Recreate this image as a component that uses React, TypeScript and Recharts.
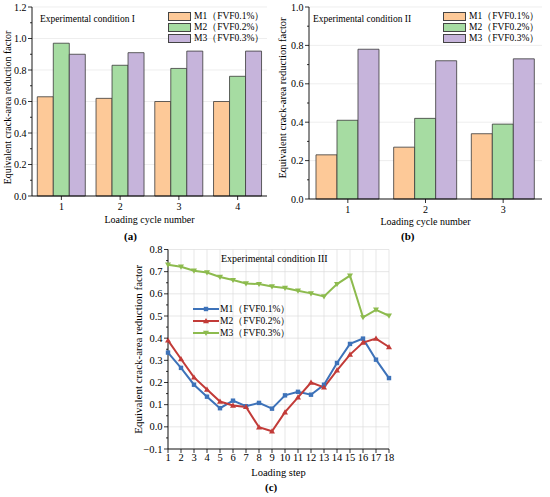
import React from 'react';
import { BarChart, Bar, XAxis, YAxis, CartesianGrid, Legend, LineChart, Line, Label } from 'recharts';

const FONT = '"Liberation Serif", "Times New Roman", serif';

// ---------- data ----------
const seriesNames = ['M1（FVF0.1%）', 'M2（FVF0.2%）', 'M3（FVF0.3%）'];
const barColors = ['#FDC998', '#A6DCA2', '#C6B4DB'];
const lineColors = ['#3D72B9', '#C23B38', '#8DBB4E'];

const cyclesA = ['1', '2', '3', '4'];
const aM1 = [0.63, 0.62, 0.6, 0.6];
const aM2 = [0.97, 0.83, 0.81, 0.76];
const aM3 = [0.9, 0.91, 0.92, 0.92];

const cyclesB = ['1', '2', '3'];
const bM1 = [0.23, 0.27, 0.34];
const bM2 = [0.41, 0.42, 0.39];
const bM3 = [0.78, 0.72, 0.73];

const steps = [1, 2, 3, 4, 5, 6, 7, 8, 9, 10, 11, 12, 13, 14, 15, 16, 17, 18];
const cM1 = [0.335, 0.266, 0.19, 0.136, 0.084, 0.118, 0.093, 0.108, 0.082, 0.142, 0.158, 0.145, 0.19, 0.288, 0.374, 0.398, 0.303, 0.22];
const cM2 = [0.39, 0.306, 0.223, 0.168, 0.114, 0.096, 0.09, -0.002, -0.02, 0.066, 0.133, 0.2, 0.178, 0.255, 0.326, 0.38, 0.398, 0.36];
const cM3 = [0.731, 0.722, 0.704, 0.696, 0.676, 0.662, 0.647, 0.644, 0.633, 0.626, 0.614, 0.602, 0.588, 0.644, 0.682, 0.494, 0.528, 0.501];

const yTicksA = [0, 0.1, 0.2, 0.3, 0.4, 0.5, 0.6, 0.7, 0.8, 0.9, 1.0, 1.1, 1.2];
const yMajorA = [0, 0.2, 0.4, 0.6, 0.8, 1.0, 1.2];
const yTicksB = [0, 0.1, 0.2, 0.3, 0.4, 0.5, 0.6, 0.7, 0.8, 0.9, 1.0];
const yMajorB = [0, 0.2, 0.4, 0.6, 0.8, 1.0];
const yTicksC = [-0.1, -0.05, 0, 0.05, 0.1, 0.15, 0.2, 0.25, 0.3, 0.35, 0.4, 0.45, 0.5, 0.55, 0.6, 0.65, 0.7, 0.75, 0.8];
const yMajorC = [-0.1, 0, 0.1, 0.2, 0.3, 0.4, 0.5, 0.6, 0.7, 0.8];

const dataA = cyclesA.map((c, i) => ({ cat: c, m1: aM1[i], m2: aM2[i], m3: aM3[i] }));
const dataB = cyclesB.map((c, i) => ({ cat: c, m1: bM1[i], m2: bM2[i], m3: bM3[i] }));
const dataC = steps.map((s, i) => ({ step: s, m1: cM1[i], m2: cM2[i], m3: cM3[i] }));

// ---------- helpers ----------
const fmt = (v: number) => {
  const s = v.toFixed(1);
  return s.startsWith('-') ? '\u2212' + s.slice(1) : s;
};
const isIn = (arr: number[], v: number) => arr.some((m) => Math.abs(m - v) < 1e-6);

const makeYTick = (majors: number[], fs: number) => (props: any) => {
  const { x, y, payload } = props;
  const v = payload.value;
  const major = isIn(majors, v);
  return (
    <g>
      <line x1={x} x2={x - (major ? 4 : 2)} y1={y} y2={y} stroke="#000" strokeWidth={0.8} />
      {major && (
        <text x={x - 5.5} y={y} textAnchor="end" dominantBaseline="central" fontSize={fs} fontFamily={FONT} fill="#000">
          {fmt(v)}
        </text>
      )}
    </g>
  );
};

const makeXTick = (fs: number, gap: number) => (props: any) => {
  const { x, y, payload } = props;
  return (
    <g>
      <line x1={x} x2={x} y1={y} y2={y + 4} stroke="#000" strokeWidth={0.8} />
      <text x={x} y={y + gap} textAnchor="middle" dy="0.71em" fontSize={fs} fontFamily={FONT} fill="#000">
        {payload.value}
      </text>
    </g>
  );
};

const yLabel = (text: string, fs: number, dx: number, dy: number) => (props: any) => {
  const vb = props.viewBox || {};
  const cx = vb.x + dx;
  const cy = vb.y + vb.height / 2 + dy;
  return (
    <text x={cx} y={cy} transform={`rotate(-90 ${cx} ${cy})`} textAnchor="middle" dominantBaseline="central" fontSize={fs} fontFamily={FONT} fill="#000">
      {text}
    </text>
  );
};

const BarLegend = (props: any) => {
  const payload = props.payload || [];
  return (
    <div style={{ fontFamily: FONT, fontSize: 9.5, color: '#000', lineHeight: '11px' }}>
      {payload.map((p: any, i: number) => (
        <div key={i} style={{ display: 'flex', alignItems: 'center', height: 11, whiteSpace: 'nowrap' }}>
          <span style={{ display: 'inline-block', width: 23, height: 9, background: p.color, border: '0.8px solid #444', boxSizing: 'border-box', marginRight: 3 }} />
          <span>{p.value}</span>
        </div>
      ))}
    </div>
  );
};

const Marker = ({ shape, cx, cy, color }: { shape: string; cx: number; cy: number; color: string }) => {
  if (shape === 'square') return <rect x={cx - 2.2} y={cy - 2.2} width={4.4} height={4.4} fill={color} />;
  if (shape === 'up') return <path d={`M${cx},${cy - 3} L${cx + 3},${cy + 2.2} L${cx - 3},${cy + 2.2} Z`} fill={color} />;
  return <path d={`M${cx},${cy + 3} L${cx + 3},${cy - 2.2} L${cx - 3},${cy - 2.2} Z`} fill={color} />;
};

const shapes = ['square', 'up', 'down'];

const makeDot = (shape: string, color: string) => (props: any) => {
  const { cx, cy, index } = props;
  if (cx == null || cy == null) return <g key={index} />;
  return (
    <g key={index}>
      <Marker shape={shape} cx={cx} cy={cy} color={color} />
    </g>
  );
};

const LineLegend = (props: any) => {
  const payload = props.payload || [];
  return (
    <div style={{ fontFamily: FONT, fontSize: 9.5, color: '#000' }}>
      {payload.map((p: any, i: number) => (
        <div key={i} style={{ display: 'flex', alignItems: 'center', height: 12, whiteSpace: 'nowrap' }}>
          <svg width={26} height={8} style={{ marginRight: 1 }}>
            <line x1={0} x2={26} y1={4} y2={4} stroke={p.color} strokeWidth={2} />
            <Marker shape={shapes[i]} cx={13} cy={4} color={p.color} />
          </svg>
          <span>{p.value}</span>
        </div>
      ))}
    </div>
  );
};

const axisStroke = { stroke: '#000', strokeWidth: 0.9 };

const absText = (left: number, top: number, fs: number, text: string, extra: React.CSSProperties = {}) => (
  <div style={{ position: 'absolute', left, top, fontFamily: FONT, fontSize: fs, lineHeight: `${fs + 2}px`, whiteSpace: 'nowrap', color: '#000', ...extra }}>
    {text}
  </div>
);

export default function App() {
  return (
    <div style={{ position: 'absolute', left: 0, top: 0, width: 550, height: 497, background: '#fff', overflow: 'hidden' }}>
      {/* Panel (a) */}
      <div style={{ position: 'absolute', left: 0, top: 0 }}>
        <BarChart width={275} height={245} data={dataA} margin={{ top: 7, right: 8, bottom: 0, left: 0 }} barGap={0} barCategoryGap="9%">
          <CartesianGrid vertical={false} horizontalValues={yMajorA} stroke="#e6e6e6" strokeWidth={0.7} />
          <XAxis dataKey="cat" height={49} tickSize={0} tickMargin={0} tickLine={false} tick={makeXTick(10, 6.5)} axisLine={axisStroke} interval={0}>
            <Label value="Loading cycle number" position="insideBottom" offset={22} fontSize={10} fontFamily={FONT} fill="#000" />
          </XAxis>
          <XAxis xAxisId="top" dataKey="cat" orientation="top" height={0} tick={false} tickLine={false} axisLine={axisStroke} />
          <YAxis width={32} domain={[0, 1.2]} ticks={yTicksA} interval={0} tickSize={0} tickMargin={0} tickLine={false} tick={makeYTick(yMajorA, 10)} axisLine={axisStroke}>
            <Label content={yLabel('Equivalent crack-area reduction factor', 10, 7, 6)} />
          </YAxis>
          <YAxis yAxisId="right" orientation="right" width={0} domain={[0, 1.2]} tick={false} tickLine={false} axisLine={axisStroke} />
          <Legend layout="vertical" align="center" verticalAlign="middle" content={BarLegend} wrapperStyle={{ left: 168, top: 11, width: 'auto', height: 'auto' }} />
          <Bar dataKey="m1" name={seriesNames[0]} fill={barColors[0]} stroke="#3a3a3a" strokeWidth={0.8} isAnimationActive={false} />
          <Bar dataKey="m2" name={seriesNames[1]} fill={barColors[1]} stroke="#3a3a3a" strokeWidth={0.8} isAnimationActive={false} />
          <Bar dataKey="m3" name={seriesNames[2]} fill={barColors[2]} stroke="#3a3a3a" strokeWidth={0.8} isAnimationActive={false} />
        </BarChart>
      </div>
      {absText(40, 14, 9.5, 'Experimental condition I')}
      {absText(124, 230, 11, '(a)', { fontWeight: 'bold' })}

      {/* Panel (b) */}
      <div style={{ position: 'absolute', left: 275, top: 0 }}>
        <BarChart width={275} height={245} data={dataB} margin={{ top: 7, right: 8, bottom: 0, left: 0 }} barGap={0} barCategoryGap="9%">
          <CartesianGrid vertical={false} horizontalValues={yMajorB} stroke="#e6e6e6" strokeWidth={0.7} />
          <XAxis dataKey="cat" height={46} tickSize={0} tickMargin={0} tickLine={false} tick={makeXTick(10, 7)} axisLine={axisStroke} interval={0}>
            <Label value="Loading cycle number" position="insideBottom" offset={20} fontSize={10} fontFamily={FONT} fill="#000" />
          </XAxis>
          <XAxis xAxisId="top" dataKey="cat" orientation="top" height={0} tick={false} tickLine={false} axisLine={axisStroke} />
          <YAxis width={34} domain={[0, 1.0]} ticks={yTicksB} interval={0} tickSize={0} tickMargin={0} tickLine={false} tick={makeYTick(yMajorB, 10)} axisLine={axisStroke}>
            <Label content={yLabel('Equivalent crack-area reduction factor', 10.5, 7, -5)} />
          </YAxis>
          <YAxis yAxisId="right" orientation="right" width={0} domain={[0, 1.0]} tick={false} tickLine={false} axisLine={axisStroke} />
          <Legend layout="vertical" align="center" verticalAlign="middle" content={BarLegend} wrapperStyle={{ left: 168, top: 10.5, width: 'auto', height: 'auto' }} />
          <Bar dataKey="m1" name={seriesNames[0]} fill={barColors[0]} stroke="#3a3a3a" strokeWidth={0.8} isAnimationActive={false} />
          <Bar dataKey="m2" name={seriesNames[1]} fill={barColors[1]} stroke="#3a3a3a" strokeWidth={0.8} isAnimationActive={false} />
          <Bar dataKey="m3" name={seriesNames[2]} fill={barColors[2]} stroke="#3a3a3a" strokeWidth={0.8} isAnimationActive={false} />
        </BarChart>
      </div>
      {absText(313, 14, 9.5, 'Experimental condition II')}
      {absText(401, 230, 11, '(b)', { fontWeight: 'bold' })}

      {/* Panel (c) */}
      <div style={{ position: 'absolute', left: 100, top: 245 }}>
        <LineChart width={300} height={252} data={dataC} margin={{ top: 4.5, right: 11, bottom: 0, left: 30 }}>
          <CartesianGrid horizontalValues={yMajorC} stroke="#dcdcdc" strokeWidth={0.7} />
          <XAxis dataKey="step" type="number" domain={[1, 18]} ticks={steps} interval={0} height={48} tickSize={0} tickMargin={0} tickLine={false} tick={makeXTick(10.5, 5)} axisLine={axisStroke}>
            <Label value="Loading step" position="insideBottom" offset={21} fontSize={10.5} fontFamily={FONT} fill="#000" />
          </XAxis>
          <XAxis xAxisId="top" dataKey="step" type="number" domain={[1, 18]} orientation="top" height={0} tick={false} tickLine={false} axisLine={axisStroke} />
          <YAxis width={38} domain={[-0.1, 0.8]} ticks={yTicksC} interval={0} tickSize={0} tickMargin={0} tickLine={false} tick={makeYTick(yMajorC, 10.5)} axisLine={axisStroke}>
            <Label content={yLabel('Equivalent crack-area reduction factor', 11, 8, 0)} />
          </YAxis>
          <YAxis yAxisId="right" orientation="right" width={0} domain={[-0.1, 0.8]} tick={false} tickLine={false} axisLine={axisStroke} />
          <Legend layout="vertical" align="center" verticalAlign="middle" content={LineLegend} wrapperStyle={{ left: 93, top: 58, width: 'auto', height: 'auto' }} />
          <Line dataKey="m1" name={seriesNames[0]} stroke={lineColors[0]} strokeWidth={2} dot={makeDot('square', lineColors[0])} isAnimationActive={false} />
          <Line dataKey="m2" name={seriesNames[1]} stroke={lineColors[1]} strokeWidth={2} dot={makeDot('up', lineColors[1])} isAnimationActive={false} />
          <Line dataKey="m3" name={seriesNames[2]} stroke={lineColors[2]} strokeWidth={2} dot={makeDot('down', lineColors[2])} isAnimationActive={false} />
        </LineChart>
      </div>
      {absText(221, 253, 10, 'Experimental condition III')}
      {absText(265, 481, 11, '(c)', { fontWeight: 'bold' })}
    </div>
  );
}
